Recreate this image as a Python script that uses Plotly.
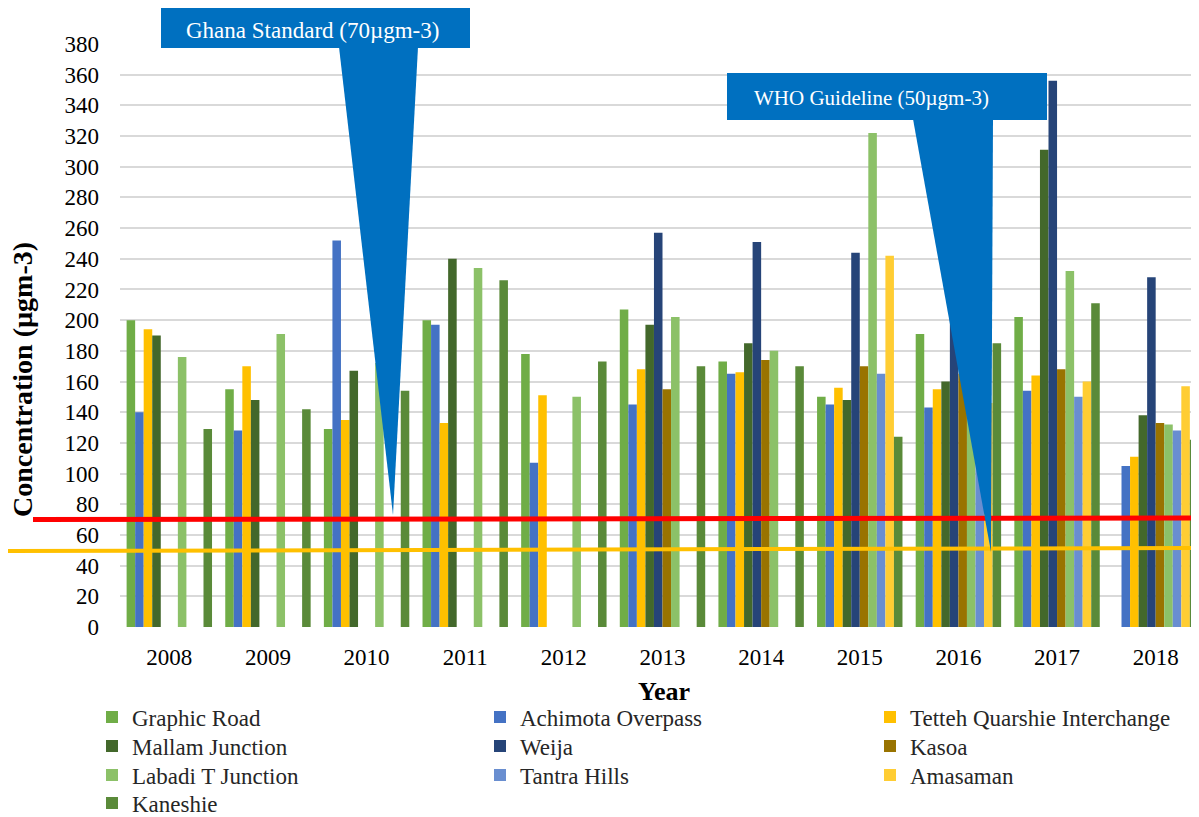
import plotly.graph_objects as go

years = ["2008", "2009", "2010", "2011", "2012", "2013", "2014", "2015", "2016", "2017", "2018"]

graphic_road = [200, 155, 129, 200, 178, 207, 173, 150, 191, 202, None]
achimota_overpass = [140, 128, 252, 197, 107, 145, 165, 145, 143, 154, 105]
tetteh_quarshie = [194, 170, 135, 133, 151, 168, 166, 156, 155, 164, 111]
mallam_junction = [190, 148, 167, 240, None, 197, 185, 148, 160, 311, 138]
weija = [None, None, None, None, None, 257, 251, 244, 205, 356, 228]
kasoa = [None, None, None, None, None, 155, 174, 170, 165, 168, 133]
labadi_t_junction = [176, 191, 172, 234, 150, 202, 180, 322, 140, 232, 132]
tantra_hills = [None, None, None, None, None, None, None, 165, 150, 150, 128]
amasaman = [None, None, None, None, None, None, None, 242, 146, 160, 157]
kaneshie = [129, 142, 154, 226, 173, 170, 170, 124, 185, 211, 122]

series = [
    ("Graphic Road", graphic_road, "#70AD47"),
    ("Achimota Overpass", achimota_overpass, "#4472C4"),
    ("Tetteh Quarshie Interchange", tetteh_quarshie, "#FFC000"),
    ("Mallam Junction", mallam_junction, "#43682B"),
    ("Weija", weija, "#264478"),
    ("Kasoa", kasoa, "#997300"),
    ("Labadi T Junction", labadi_t_junction, "#8CC168"),
    ("Tantra Hills", tantra_hills, "#698ED0"),
    ("Amasaman", amasaman, "#FFCD33"),
    ("Kaneshie", kaneshie, "#5A8A39"),
]

ghana_standard = 70
who_guideline = 50

# page has an 8px body margin; positions below are given in page pixels
OFF = 8
W, H = 1197, 809
L, R, T, B = 112, 0, 36, 190
PW, PH = W - L - R, H - T - B


def px(x):
    return (x - OFF - L) / PW


def py(y):
    return (H - B - (y - OFF)) / PH


SERIF = "Liberation Serif, Times New Roman, serif"

fig = go.Figure()
legend_cols = [92, 480, 870]
legend_rows = [717, 746, 775, 803]
legend_layouts = {}
for i, (name, vals, color) in enumerate(series):
    lname = "legend" if i == 0 else f"legend{i + 1}"
    fig.add_trace(go.Bar(x=years, y=vals, name=name, marker_color=color,
                         marker_line_width=0, legend=lname, showlegend=True))
    legend_layouts[lname] = dict(
        x=px(legend_cols[i % 3]), y=py(legend_rows[i // 3]),
        xanchor="left", yanchor="middle", orientation="v",
        font=dict(family=SERIF, size=23, color="#262626"),
        bgcolor="rgba(0,0,0,0)", borderwidth=0,
    )

shapes = []
# threshold lines
shapes.append(dict(type="line", xref="paper", yref="paper",
                   x0=px(33), x1=1.0, y0=py(519.5), y1=py(518),
                   line=dict(color="#FF0000", width=5), layer="above"))
shapes.append(dict(type="line", xref="paper", yref="paper",
                   x0=px(8), x1=1.0, y0=py(551), y1=py(548),
                   line=dict(color="#FFC000", width=4), layer="above"))

CALLOUT = "#0070C0"
# Ghana callout
shapes.append(dict(type="rect", xref="paper", yref="paper",
                   x0=px(161), x1=px(470), y0=py(48), y1=py(8),
                   fillcolor=CALLOUT, line=dict(width=0), layer="above"))
shapes.append(dict(type="path", xref="paper", yref="paper",
                   path=f"M {px(339)},{py(47)} L {px(418)},{py(47)} L {px(393)},{py(515)} Z",
                   fillcolor=CALLOUT, line=dict(width=0), layer="above"))
# WHO callout
shapes.append(dict(type="rect", xref="paper", yref="paper",
                   x0=px(727), x1=px(1047), y0=py(120), y1=py(73),
                   fillcolor=CALLOUT, line=dict(width=0), layer="above"))
shapes.append(dict(type="path", xref="paper", yref="paper",
                   path=f"M {px(913)},{py(119)} L {px(993)},{py(119)} L {px(991)},{py(552)} Z",
                   fillcolor=CALLOUT, line=dict(width=0), layer="above"))

annotations = [
    dict(text=f"Ghana Standard ({ghana_standard}µgm-3)", xref="paper", yref="paper",
         x=px(312), y=py(30), showarrow=False, xanchor="center", yanchor="middle",
         font=dict(family=SERIF, size=23, color="white")),
    dict(text=f"WHO Guideline ({who_guideline}µgm-3)", xref="paper", yref="paper",
         x=px(871), y=py(98), showarrow=False, xanchor="center", yanchor="middle",
         font=dict(family=SERIF, size=21, color="white")),
    dict(text="<b>Concentration (µgm-3)</b>", xref="paper", yref="paper",
         x=px(22), y=py(380), showarrow=False, textangle=-90,
         xanchor="center", yanchor="middle",
         font=dict(family=SERIF, size=28, color="black")),
    dict(text="<b>Year</b>", xref="paper", yref="paper",
         x=px(664), y=py(691), showarrow=False, xanchor="center", yanchor="middle",
         font=dict(family=SERIF, size=26, color="black")),
]

fig.update_layout(
    width=W, height=H,
    margin=dict(l=L, r=R, t=T, b=B, autoexpand=False),
    paper_bgcolor="white", plot_bgcolor="white",
    barmode="group", bargap=0.134, bargroupgap=0,
    shapes=shapes, annotations=annotations,
    showlegend=True,
    font=dict(family=SERIF, size=20, color="black"),
    **legend_layouts,
)
fig.update_xaxes(showgrid=False, showline=False, zeroline=False, ticks="",
                 tickfont=dict(family=SERIF, size=23, color="black"),
                 ticklabelstandoff=14)
fig.update_yaxes(range=[0, 380], dtick=20, showgrid=True, gridcolor="#D9D9D9",
                 gridwidth=1.5, zeroline=False, showline=False, ticks="",
                 tickfont=dict(family=SERIF, size=23, color="black"),
                 ticklabelstandoff=20)

fig.write_html("out.html")
